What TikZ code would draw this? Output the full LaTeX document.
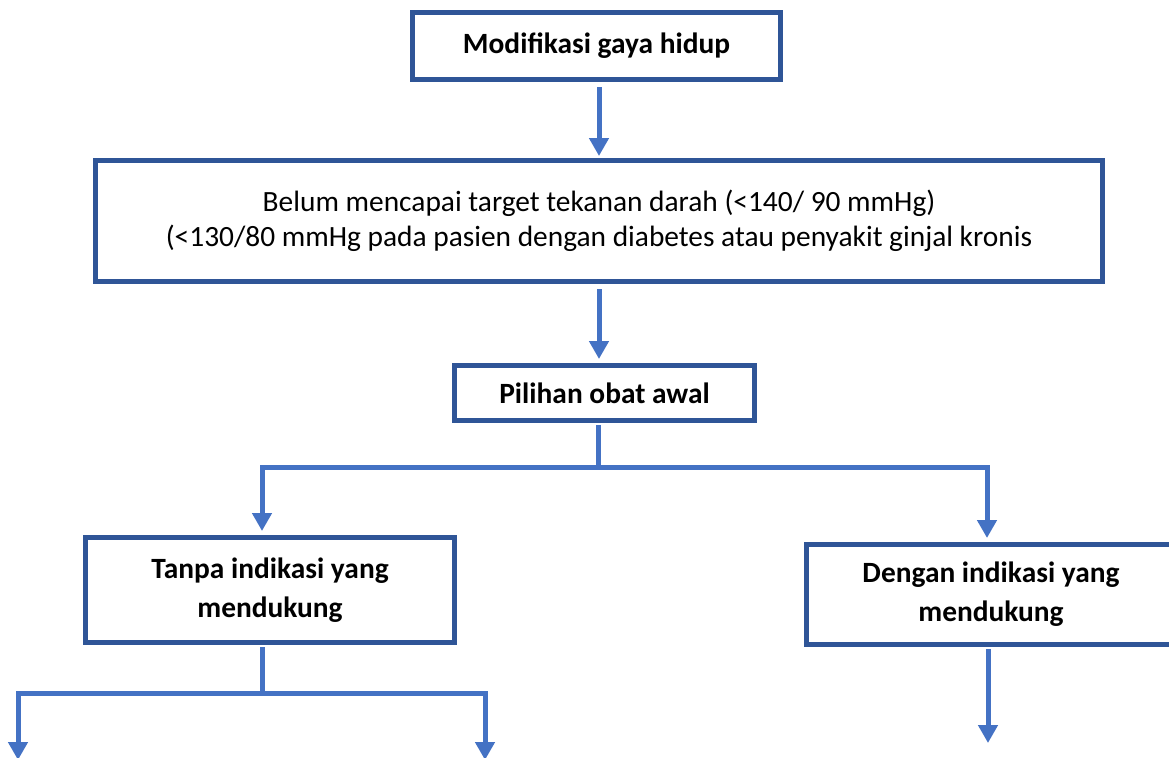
\documentclass[tikz,border=0pt]{standalone}
\usepackage{fontspec}
\setmainfont{Carlito}
\usetikzlibrary{arrows.meta}
\definecolor{boxblue}{HTML}{2F5597}
\definecolor{linkblue}{HTML}{4472C4}
\newcommand{\bw}{184.5pt}
\tikzset{
  box/.style={draw=boxblue, line width=2.5pt, fill=white, align=center, inner sep=0pt},
  boldbox/.style={box, font=\fontsize{14.7}{19.5}\selectfont\bfseries},
  link/.style={draw=linkblue, line width=2.5pt},
  arr/.style={link, -{Triangle[width=9.5pt,length=9pt]}}
}

\begin{document}
\begin{tikzpicture}[x=0.5pt,y=-0.5pt]
    \useasboundingbox (0,0) rectangle (1169,757);
    \clip (0,0) rectangle (1169,757);

    % boxes
    \node[boldbox, minimum width=184pt, minimum height=33.5pt] (modif) at (596.5,46) {Modifikasi gaya hidup};
    \node[box, font=\fontsize{14.7}{17.5}\selectfont, minimum width=503.5pt, minimum height=60.5pt] (target) at (599,221)
        {Belum mencapai target tekanan darah (<140/ 90 mmHg)\\(<130/80 mmHg pada pasien dengan diabetes atau penyakit ginjal kronis};
    \node[boldbox, minimum width=150pt, minimum height=27.5pt] (pilihan) at (604.5,393) {Pilihan obat awal};
    \node[boldbox, minimum width=\bw, minimum height=52.5pt] (tanpa) at (270,590) {Tanpa indikasi yang\\mendukung};
    \node[boldbox, minimum width=\bw, minimum height=50pt] (dengan) at (991,594.5) {Dengan indikasi yang\\mendukung};

    % forks and loose ends
    \coordinate (fork1) at (598,467);
    \coordinate (fork2) at (262,693);
    \coordinate (outA) at (18,760);
    \coordinate (outB) at (485,760);
    \coordinate (outC) at (988,743);

    % connectors
    \draw[arr, shorten <=2.5pt, shorten >=1pt] (modif.south -| target.north) -- (target.north);
    \draw[arr, shorten <=2.5pt, shorten >=2pt] (target.south) -- (target.south |- pilihan.north);
    \draw[link, shorten <=1pt] (fork1 |- pilihan.south) -- (fork1);
    \draw[arr, shorten >=2pt] (fork1) -| ([xshift=-4pt]tanpa.north);
    \draw[arr, shorten >=2pt] (fork1) -| ([xshift=-2pt]dengan.north);
    \draw[link, shorten <=1pt] (fork2 |- tanpa.south) -- (fork2);
    \draw[arr] (fork2) -| (outA);
    \draw[arr] (fork2) -| (outB);
    \draw[arr, shorten <=1pt] (dengan.south -| outC) -- (outC);
\end{tikzpicture}
\end{document}
